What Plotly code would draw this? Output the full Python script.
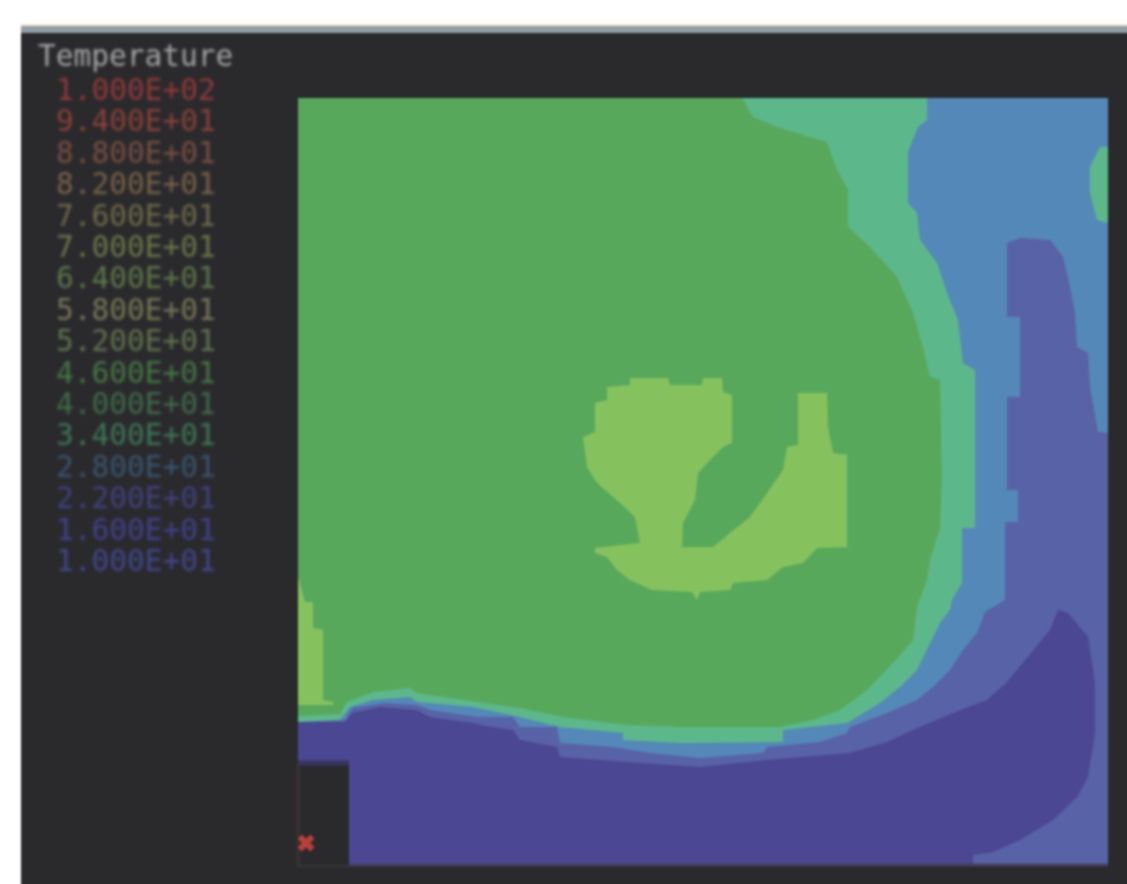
import plotly.graph_objects as go

# ---- legend ----
legend_title = "Temperature"
legend_labels = ["1.000E+02", "9.400E+01", "8.800E+01", "8.200E+01", "7.600E+01", "7.000E+01",
                 "6.400E+01", "5.800E+01", "5.200E+01", "4.600E+01", "4.000E+01", "3.400E+01",
                 "2.800E+01", "2.200E+01", "1.600E+01", "1.000E+01"]
legend_colors = ["#963a38", "#8e4238", "#7a5040", "#7a6448", "#706c48", "#6e7a48", "#5e7a48", "#7a7a56",
                 "#62764e", "#467a44", "#426e48", "#3e7a56", "#3a5670", "#424282", "#424290", "#424890"]

# ---- temperature bands: boundaries ----
plot_x = [298, 1108, 1108, 298]
plot_y = [98, 98, 864, 864]

band28 = [(298, 98), (1108, 98), (1108, 433), (1098, 432), (1090, 387), (1088, 353), (1077, 347), (1075, 313),
          (1070, 287), (1063, 257), (1050, 240), (1020, 238), (1007, 243), (1007, 317), (1020, 317), (1020, 397),
          (1007, 397), (1007, 490), (1018, 490), (1018, 522), (1005, 522), (1005, 600), (985, 612), (977, 633),
          (963, 650), (950, 670), (933, 687), (917, 700), (887, 713), (850, 727), (847, 733), (820, 742),
          (767, 747), (763, 753), (700, 758), (650, 753), (613, 747), (560, 743), (557, 727), (520, 727),
          (513, 717), (477, 717), (430, 710), (417, 705), (385, 703), (352, 708), (345, 720), (298, 720)]

band34 = [(298, 98), (927, 98), (927, 120), (918, 127), (908, 152), (908, 203), (917, 213), (920, 240),
          (937, 263), (947, 293), (958, 320), (963, 363), (975, 370), (975, 528), (962, 528), (962, 583),
          (952, 600), (950, 610), (940, 623), (927, 650), (917, 670), (900, 687), (880, 703), (847, 723),
          (783, 730), (783, 742), (680, 743), (623, 740), (623, 733), (560, 727), (520, 717), (473, 707),
          (417, 702), (410, 697), (373, 700), (350, 707), (340, 720), (298, 722)]

band40 = [(298, 98), (742, 98), (753, 117), (777, 127), (827, 142), (837, 170), (848, 190), (848, 227),
          (870, 247), (897, 277), (913, 313), (923, 347), (930, 377), (940, 380), (942, 480), (940, 528),
          (930, 560), (927, 580), (917, 607), (913, 640), (893, 663), (867, 690), (840, 710), (813, 720),
          (780, 727), (680, 727), (627, 725), (563, 717), (520, 708), (480, 702), (417, 693), (410, 688),
          (373, 692), (347, 702), (340, 714), (298, 716)]

band46_centre = [(630, 378), (668, 378), (670, 385), (702, 385), (703, 378), (722, 378), (723, 392), (732, 395),
                 (732, 443), (723, 447), (710, 460), (698, 473), (695, 500), (683, 523), (682, 547), (713, 547),
                 (730, 533), (750, 517), (767, 493), (783, 470), (787, 447), (798, 445), (798, 393), (827, 393),
                 (828, 427), (833, 453), (847, 455), (847, 547), (817, 548), (803, 563), (783, 567), (767, 580),
                 (733, 583), (730, 590), (700, 592), (697, 600), (692, 592), (652, 590), (630, 580), (617, 570),
                 (607, 557), (595, 553), (595, 548), (640, 543), (635, 517), (620, 503), (597, 483), (587, 467),
                 (583, 437), (595, 432), (595, 403), (607, 400), (607, 387), (630, 385)]

band46_left = [(298, 577), (305, 602), (313, 602), (313, 628), (323, 630), (323, 700), (333, 702), (333, 705),
               (298, 705)]

band34_right = [(1100, 147), (1090, 167), (1090, 193), (1097, 220), (1108, 223), (1108, 147)]

band16 = [(298, 722), (345, 722), (352, 713), (380, 707), (417, 710), (430, 717), (473, 723), (480, 725),
          (513, 730), (520, 740), (557, 747), (560, 757), (627, 762), (700, 767), (767, 760), (850, 753),
          (887, 742), (913, 730), (953, 713), (987, 700), (1007, 682), (1028, 657), (1050, 630), (1058, 610),
          (1068, 613), (1088, 637), (1095, 683), (1095, 733), (1088, 777), (1077, 797), (1053, 820), (1020, 840),
          (993, 852), (973, 855), (973, 864), (298, 864)]

notch_x = [298, 349, 349, 298]
notch_y = [764, 764, 864, 864]
probe_x = [306]
probe_y = [843]

COL = {"22": "#5862a6", "28": "#5488b8", "34": "#5cb88a", "40": "#58a85c", "46": "#85c25e",
       "16": "#4b4792", "panel": "#2a2a2d"}


def region(points, colour):
    xs, ys = zip(*points)
    return go.Scatter(x=list(xs) + [xs[0]], y=list(ys) + [ys[0]], mode="lines", fill="toself",
                      fillcolor=colour, line=dict(width=0, color=colour), hoverinfo="skip", showlegend=False)


fig = go.Figure()
fig.add_trace(region(list(zip(plot_x, plot_y)), COL["22"]))
fig.add_trace(region(band28, COL["28"]))
fig.add_trace(region(band34, COL["34"]))
fig.add_trace(region(band40, COL["40"]))
fig.add_trace(region(band34_right, COL["34"]))
fig.add_trace(region(band46_centre, COL["46"]))
fig.add_trace(region(band46_left, COL["46"]))
fig.add_trace(region(band16, COL["16"]))
fig.add_trace(region(list(zip(notch_x, notch_y)), COL["panel"]))
fig.add_trace(go.Scatter(x=probe_x, y=probe_y, mode="markers", showlegend=False, hoverinfo="skip",
                         marker=dict(symbol="x", size=15, color="#b8403c", line=dict(width=0))))

FONT = "DejaVu Sans Mono"
fig.add_annotation(x=36, y=56, text=legend_title, showarrow=False, xanchor="left", yanchor="middle",
                   font=dict(family=FONT, size=29.5, color="#a6a6a6"))
for i, (label, colour) in enumerate(zip(legend_labels, legend_colors)):
    fig.add_annotation(x=54, y=90 + i * 31.4, text=label, showarrow=False, xanchor="left", yanchor="middle",
                       font=dict(family=FONT, size=29.5, color=colour))

# The canvas runs past the window so that the soft edge of the photo-like blur stays out of view.
fig.update_layout(
    width=1167, height=924, margin=dict(l=0, r=0, t=0, b=0),
    paper_bgcolor="#ffffff", plot_bgcolor="#ffffff", showlegend=False,
    xaxis=dict(range=[0, 1167], visible=False, fixedrange=True),
    yaxis=dict(range=[924, 0], visible=False, fixedrange=True),
    shapes=[
        dict(type="rect", layer="below", x0=21, x1=1167, y0=33, y1=924, fillcolor=COL["panel"], line_width=0),
        dict(type="rect", layer="below", x0=21, x1=1167, y0=26, y1=33, fillcolor="#8e9ea4", line_width=0),
        dict(type="line", layer="below", x0=21, x1=1167, y0=25, y1=25, line=dict(color="#f4c8b0", width=1)),
        dict(type="line", layer="above", x0=298, x1=298, y0=764, y1=866, line=dict(color="#5a3a3a", width=1)),
        dict(type="line", layer="above", x0=298, x1=349, y0=866, y1=866, line=dict(color="#4a4040", width=1)),
        dict(type="line", layer="above", x0=349, x1=1108, y0=865, y1=865, line=dict(color="#45405e", width=3)),
        dict(type="line", layer="above", x0=298, x1=349, y0=763, y1=763, line=dict(color="#363660", width=5)),
    ],
)

fig.write_html("out.html", config={"displayModeBar": False},
               post_script="document.documentElement.style.overflow='hidden';"
                           "document.body.style.margin='0';document.body.style.overflow='hidden';"
                           "document.querySelector('.plotly-graph-div').style.filter='blur(1.2px)';"
                           "document.querySelectorAll('.annotation').forEach(function(a){a.style.filter='blur(1.3px)';});")
